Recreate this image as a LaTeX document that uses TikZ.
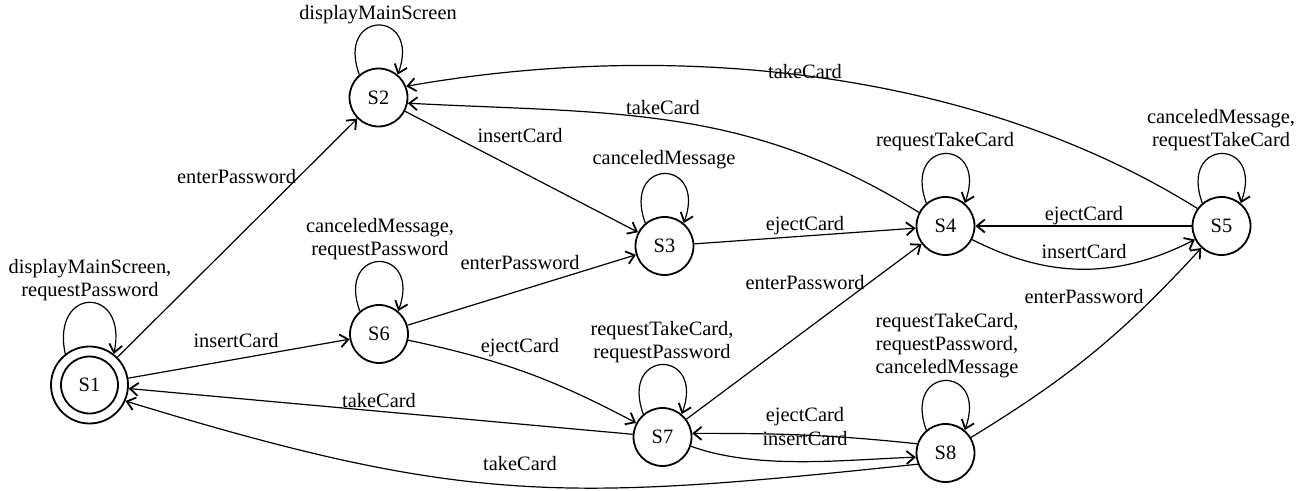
\documentclass[tikz,border=0pt]{standalone}
\usepackage{fontspec}
\setmainfont{Liberation Serif}
\usetikzlibrary{arrows.meta}

\begin{document}
\begin{tikzpicture}[
    x=1pt, y=1pt, >={Straight Barb[length=8pt,width=13pt,line width=1.8pt]},
    font=\fontsize{20.4}{23}\selectfont,
    state/.style={circle, draw, line width=1.8pt, minimum size=58pt, inner sep=0pt},
    trans/.style={->, line width=1.2pt},
    lbl/.style={inner sep=1pt, align=center},
    selfloop/.style={to path={(\tikztostart.130) .. controls +(110:70pt) and +(70:70pt) .. (\tikztotarget.50)}},
  ]
  \useasboundingbox (0,0) rectangle (1306,490);
  % states (S1 is the accepting one)
  \node[state, minimum size=77pt] (s1) at (89.5,105) {S1};
  \draw[line width=1.8pt] (s1.center) circle (28.5pt);
  \node[state] (s2) at (378.5,392.5) {S2};
  \node[state] (s3) at (664.5,244) {S3};
  \node[state] (s4) at (945.5,264) {S4};
  \node[state] (s5) at (1221.5,264) {S5};
  \node[state] (s6) at (379,156) {S6};
  \node[state] (s7) at (662.5,53) {S7};
  \node[state] (s8) at (945.5,37) {S8};
  % self loops
  \draw[trans] (s1.128) .. controls +(102:70pt) and +(78:70pt) .. (s1.52);
  \draw[trans] (s2) to[selfloop] (s2);
  \draw[trans] (s3) to[selfloop] (s3);
  \draw[trans] (s4) to[selfloop] (s4);
  \draw[trans] (s5) to[selfloop] (s5);
  \draw[trans] (s6) to[selfloop] (s6);
  \draw[trans] (s7) to[selfloop] (s7);
  \draw[trans] (s8) to[selfloop] (s8);
  % transitions
  \draw[trans] (s1) -- (s2);
  \draw[trans] (s1) -- (s6);
  \draw[trans] (s6) -- (s3);
  \draw[trans] (s6) to[bend left=8] (s7);
  \draw[trans] (s7) -- (s1);
  \draw[trans] (s8.202) to[out=186, in=-17, looseness=1.15] (s1.-24);
  \draw[trans] (s2) -- (s3);
  \draw[trans] (s3) -- (s4);
  \draw[trans] (s7) -- (s4);
  \draw[trans] (s4.153) to[out=148, in=-3] (s2.-11);
  \draw[trans] (s5.144) to[out=148, in=10, looseness=.85] (s2.22);
  \draw[trans] (s5) -- (s4);
  \draw[trans] (s4) to[bend right=27] (s5);
  \draw[trans] (s8) to[bend right=8] (s5);
  \draw[trans] (s8.162) to[out=174, in=0] (s7.7);
  \draw[trans] (s7.-18) to[out=-20, in=182, looseness=.8] (s8.188);
  % loop labels
  \node[lbl] (l11) at (90,210) {displayMainScreen,\\requestPassword};
  \node[lbl] (l22) at (378,475) {displayMainScreen};
  \node[lbl] (l33) at (664,330) {canceledMessage};
  \node[lbl] (l44) at (945,348) {requestTakeCard};
  \node[lbl] (l55) at (1221,359.5) {canceledMessage,\\requestTakeCard};
  \node[lbl] (l66) at (380,251) {canceledMessage,\\requestPassword};
  \node[lbl] (l77) at (662,147.5) {requestTakeCard,\\requestPassword};
  \node[lbl] (l88) at (947,144.5) {requestTakeCard,\\requestPassword,\\canceledMessage};
  % transition labels
  \node[lbl] (l12) at (236.5,313) {enterPassword};
  \node[lbl] (l16) at (236,149) {insertCard};
  \node[lbl] (l63) at (520,227) {enterPassword};
  \node[lbl] (l67) at (520,142) {ejectCard};
  \node[lbl] (l71) at (379,89) {takeCard};
  \node[lbl] (l81) at (520,26) {takeCard};
  \node[lbl] (l23) at (520,354) {insertCard};
  \node[lbl] (l34) at (805,264) {ejectCard};
  \node[lbl] (l74) at (805,207) {enterPassword};
  \node[lbl] (l42) at (663,382) {takeCard};
  \node[lbl] (l52) at (805,418) {takeCard};
  \node[lbl] (l54) at (1084,274) {ejectCard};
  \node[lbl] (l45) at (1084,238) {insertCard};
  \node[lbl] (l85) at (1084,193) {enterPassword};
  \node[lbl] (l87) at (805,73) {ejectCard};
  \node[lbl] (l78) at (805,51) {insertCard};
\end{tikzpicture}
\end{document}
